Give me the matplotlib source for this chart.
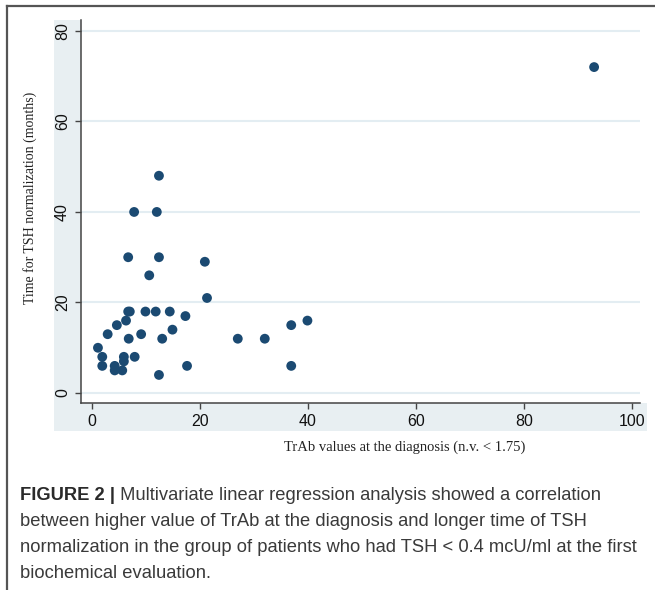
import matplotlib
matplotlib.use("Agg")
import matplotlib.pyplot as plt
from matplotlib.patches import Rectangle
from matplotlib.lines import Line2D

# Data
trab = [12.4, 7.8, 12.0, 6.7, 12.4, 20.9, 10.6, 21.3, 6.7, 7.0, 9.9, 11.8, 14.4,
        17.3, 6.3, 4.6, 14.9, 2.9, 9.1, 6.8, 13.0, 27.0, 32.0, 36.9, 39.9, 1.1,
        1.9, 1.9, 5.9, 5.9, 7.9, 4.2, 4.2, 5.6, 12.4, 17.6, 36.9, 93.0]
months = [48, 40, 40, 30, 30, 29, 26, 21, 18, 18, 18, 18, 18,
          17, 16, 15, 14, 13, 13, 12, 12, 12, 12, 15, 16, 10,
          8, 6, 8, 7, 8, 6, 5, 5, 4, 6, 6, 72]
xticks = [0, 20, 40, 60, 80, 100]
yticks = [0, 20, 40, 60, 80]
xlabel = "TrAb values at the diagnosis (n.v. < 1.75)"
ylabel = "Time for TSH normalization (months)"
caption_bold = "FIGURE 2 |"
caption_lines = [
    " Multivariate linear regression analysis showed a correlation",
    "between higher value of TrAb at the diagnosis and longer time of TSH",
    "normalization in the group of patients who had TSH < 0.4 mcU/ml at the first",
    "biochemical evaluation.",
]

W, H = 655, 590
fig = plt.figure(figsize=(W / 100, H / 100), dpi=100)
fig.patch.set_facecolor("white")

def fx(px):
    return px / W

def fy(py):
    return 1 - py / H

panel = "#e8eff2"
# left strip and bottom strip of the light panel
fig.add_artist(Rectangle((fx(54), fy(431)), fx(81) - fx(54), fy(20) - fy(431),
                         transform=fig.transFigure, facecolor=panel, edgecolor="none", zorder=0))
fig.add_artist(Rectangle((fx(54), fy(431)), fx(647) - fx(54), fy(403) - fy(431),
                         transform=fig.transFigure, facecolor=panel, edgecolor="none", zorder=0))

# outer frame lines
fig.add_artist(Line2D([fx(7), fx(7)], [fy(6), fy(590)], transform=fig.transFigure,
                      color="#555555", lw=1.6))
fig.add_artist(Line2D([fx(7), 1.0], [fy(6), fy(6)], transform=fig.transFigure,
                      color="#555555", lw=1.6))

ax = fig.add_axes([fx(81), fy(403), fx(640) - fx(81), fy(20) - fy(403)])
ax.set_facecolor("white")
ax.set_xlim(-2.04, 101.5)
ax.set_ylim(-2.2, 82.4)

for yv in yticks:
    ax.axhline(yv, color="#e3edf2", lw=1.5, zorder=1)

ax.scatter(trab, months, s=50, color="#1b4a72", edgecolors="none", zorder=3)

for side in ["top", "right"]:
    ax.spines[side].set_visible(False)
for side in ["left", "bottom"]:
    ax.spines[side].set_color("#444444")
    ax.spines[side].set_linewidth(1.1)

ax.set_xticks(xticks)
ax.set_yticks(yticks)
ax.set_xticklabels([str(v) for v in xticks], fontfamily="Liberation Sans", fontsize=11.5)
ax.set_yticklabels([str(v) for v in yticks], fontfamily="Liberation Sans", fontsize=11.5,
                   rotation=90, va="center")
ax.tick_params(axis="both", direction="out", length=4, width=1, color="#444444",
               pad=4, labelcolor="#111111")

fig.text(fx(405), fy(447), xlabel, ha="center", va="center",
         fontfamily="Liberation Serif", fontsize=10.5, color="#222222")
fig.text(fx(30), fy(198), ylabel, ha="center", va="center", rotation=90,
         fontfamily="Liberation Serif", fontsize=10, color="#222222")

# caption
cap_y = [496, 522, 548, 573]
fs = 13.2
t = fig.text(fx(20), fy(cap_y[0]), caption_bold, ha="left", va="center",
             fontfamily="Liberation Sans", fontweight="bold", fontsize=fs, color="#2a2a2a")
fig.canvas.draw()
bb = t.get_window_extent()
x_after = bb.x1 / fig.dpi / (W / 100)
fig.text(x_after, fy(cap_y[0]), caption_lines[0], ha="left", va="center",
         fontfamily="Liberation Sans", fontsize=fs, color="#3a3a3a")
for yy, line in zip(cap_y[1:], caption_lines[1:]):
    fig.text(fx(20), fy(yy), line, ha="left", va="center",
             fontfamily="Liberation Sans", fontsize=fs, color="#3a3a3a")

fig.savefig("out.png", dpi=100)
